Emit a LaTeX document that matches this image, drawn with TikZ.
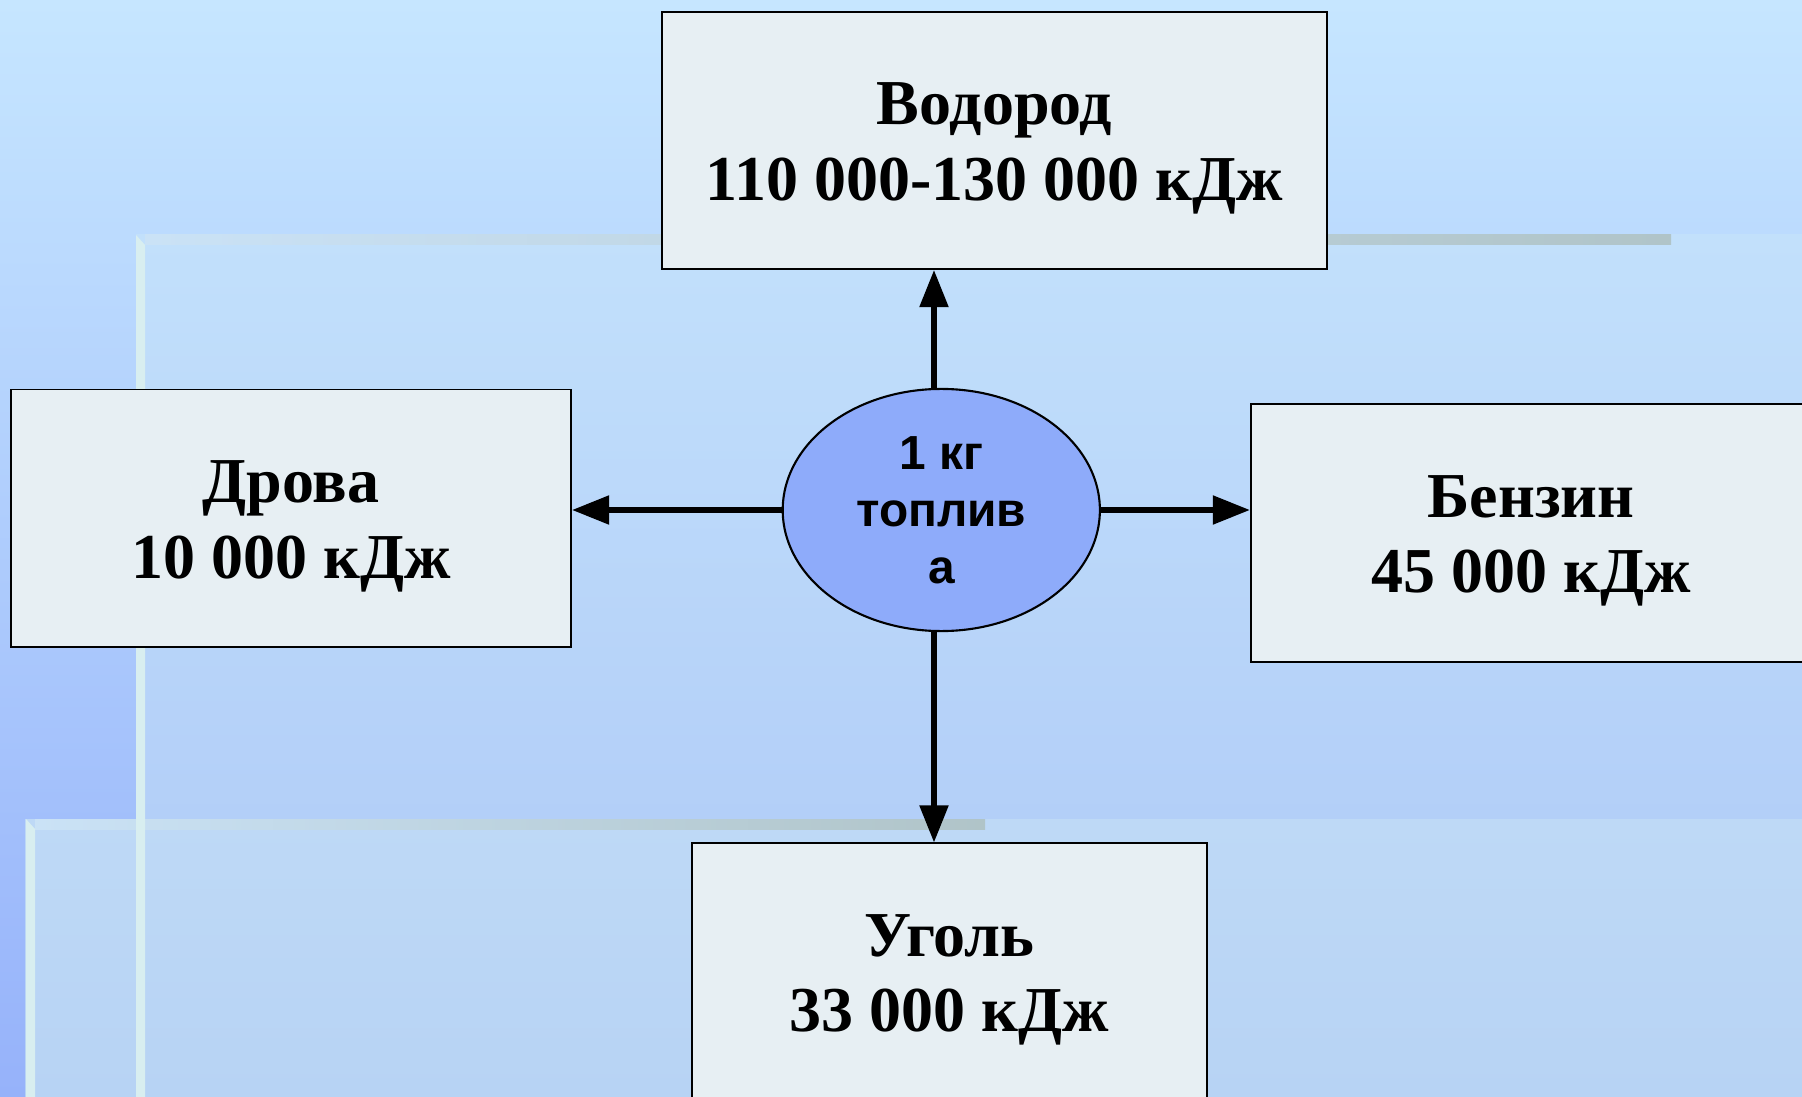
\documentclass[tikz,border=0pt]{standalone}
\usepackage{fontspec}
\setmainfont{Liberation Serif}
\newfontfamily\arialf{Liberation Sans}
\usetikzlibrary{arrows.meta,shapes.geometric}
\definecolor{bgtop}{RGB}{198,230,255}
\definecolor{bgbot}{RGB}{150,178,250}
\definecolor{pAtop}{RGB}{194,224,251}
\definecolor{pAbot}{RGB}{172,199,247}
\definecolor{pBtop}{RGB}{190,217,246}
\definecolor{pBbot}{RGB}{183,211,244}
\definecolor{boxfill}{RGB}{231,239,243}
\definecolor{ellfill}{RGB}{142,171,250}
\definecolor{barL}{RGB}{202,226,246}
\definecolor{barR}{RGB}{176,196,200}
\definecolor{sidebar}{RGB}{216,238,240}
\newcommand{\dn}[1]{\raisebox{-0.08cm}[\height][\depth]{#1}}
\tikzset{
  fuelbox/.style={draw=black, line width=0.55pt, fill=boxfill, rectangle,
    align=center, font=\bfseries\fontsize{18.2}{21.5}\selectfont, inner sep=0pt},
  centre/.style={draw=black, line width=0.6pt, fill=ellfill, ellipse,
    inner sep=0pt, minimum width=3.17cm, minimum height=2.42cm, align=center,
    font=\arialf\bfseries\fontsize{13.6}{16.2}\selectfont},
  arr/.style={line width=0.052cm, -{Triangle[length=0.37cm,width=0.28cm]}},
  sidebarst/.style={fill=sidebar, draw=none}
}
\begin{document}
\begin{tikzpicture}[x=0.01cm,y=-0.01cm]
\useasboundingbox (0,0) rectangle (1802,1097);
\clip (0,0) rectangle (1802,1097);
% background
\shade[top color=bgtop, bottom color=bgbot] (0,0) rectangle (1802,1097);
% panel 1
\shade[top color=pAtop, bottom color=pAbot] (136,235) rectangle (1802,1097);
\shade[left color=barL, right color=barR] (145,235) rectangle (1671,245);
% panel 2
\shade[top color=pBtop, bottom color=pBbot] (25,819) rectangle (1802,1097);
\shade[left color=barL, right color=barR] (35,819) rectangle (985,829);
\path[sidebarst] (26,819) -- (35,829) -- (35,1097) -- (26,1097) -- cycle;
% side bar of panel 1 (runs over panel 2)
\path[sidebarst] (136,235) -- (145,245) -- (145,1097) -- (136,1097) -- cycle;
% boxes
\node[fuelbox, minimum width=6.65cm, minimum height=2.57cm] (vod) at (994.5,140.5)
  {\dn{Водород}\\\dn{110 000-130 000 кДж}};
\node[fuelbox, minimum width=5.595cm, minimum height=2.575cm] (drova) at (291.2,518.3)
  {\dn{Дрова}\\\dn{10 000 кДж}};
\node[fuelbox, minimum width=5.6cm, minimum height=2.575cm] (benz) at (1531,533)
  {\dn{Бензин}\\\dn{45 000 кДж}};
\node[fuelbox, minimum width=5.15cm, minimum height=2.57cm] (ugol) at (949.5,972)
  {\dn{Уголь}\\\dn{33 000 кДж}};
% centre
\node[centre] (c) at (941.3,510) {1 кг\\топлив\\а};
\coordinate (vx) at (934,0);
% connectors
\draw[arr] (c.north -| vx) -- (vod.south -| vx);
\draw[arr] (c.south -| vx) -- (ugol.north -| vx);
\draw[arr] (c.west) -- (drova.east |- c.west);
\draw[arr] (c.east) -- (benz.west |- c.east);
\end{tikzpicture}
\end{document}
